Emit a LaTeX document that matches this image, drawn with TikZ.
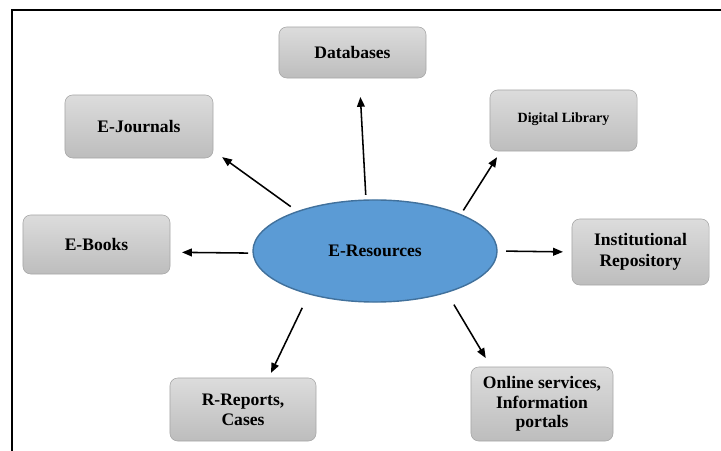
\documentclass[tikz,border=0pt]{standalone}
\usepackage{fontspec}
\setmainfont{Liberation Serif}
\usetikzlibrary{shapes.geometric,arrows.meta,shadings}
\definecolor{boxline}{HTML}{A6A6A6}
\definecolor{boxtop}{HTML}{DCDCDC}
\definecolor{boxbot}{HTML}{BDBDBD}
\definecolor{ellfill}{HTML}{5B9BD5}
\definecolor{ellline}{HTML}{41719C}
\tikzset{
  resbox/.style={draw=boxline, rounded corners=5.5pt, top color=boxtop, bottom color=boxbot,
    align=center, inner sep=2pt, outer sep=0pt, font=\fontsize{12.5}{14}\selectfont\bfseries},
  arr/.style={line width=1.1pt, -{Triangle[length=7pt,width=5.5pt]}}
}
\begin{document}
\begin{tikzpicture}[x=0.025cm, y=-0.025cm]
    \useasboundingbox (0,0) rectangle (721,451);
    % frame
    \draw[line width=1.4pt] (12,451) -- (12,10) -- (721,10);
    % centre
    \node[ellipse, draw=ellline, line width=1pt, fill=ellfill, minimum width=6.1cm, minimum height=2.55cm,
      inner sep=0pt, outer sep=0pt, font=\fontsize{12.5}{14}\selectfont\bfseries] (ell) at (375,251) {E-Resources};
    % boxes
    \node[resbox, minimum width=3.675cm, minimum height=1.275cm] (db) at (352.5,52.5) {Databases};
    \node[resbox, minimum width=3.7cm, minimum height=1.575cm] (ej) at (139,126.5) {E-Journals};
    \node[resbox, minimum width=3.675cm, minimum height=1.525cm, font=\fontsize{10}{12}\selectfont\bfseries] (dl) at (563.5,120.5) {\raisebox{4.6pt}{Digital Library}};
    \node[resbox, minimum width=3.675cm, minimum height=1.475cm] (eb) at (96.5,244.5) {E-Books};
    \node[resbox, minimum width=3.425cm, minimum height=1.65cm, font=\fontsize{12.5}{15}\selectfont\bfseries] (ir) at (640.5,252) {Institutional\\Repository};
    \node[resbox, minimum width=3.65cm, minimum height=1.575cm] (rr) at (243,409.5) {R-Reports,\\Cases};
    \node[resbox, minimum width=3.55cm, minimum height=1.85cm] (os) at (542,404) {Online services,\\Information\\portals};
    % arrows
    \draw[arr, shorten <=3.7pt, shorten >=13.5pt] (ell.100.8) -- (db.-75.7);
    \draw[arr, shorten <=6pt, shorten >=8pt] (ell.153.5) -- (ej.-18);
    \draw[arr, shorten <=3.6pt, shorten >=5.2pt] (ell.23.7) -- (dl.206.4);
    \draw[arr, shorten <=3.6pt, shorten >=8.5pt] (ell.181) -- (eb.-6);
    \draw[arr, shorten <=6.4pt, shorten >=6.4pt] (ell.0) -- (ir.west);
    \draw[arr, shorten <=11pt, shorten >=4pt] (ell.213.5) -- (rr.51);
    \draw[arr, shorten <=10.2pt, shorten >=7.4pt] (ell.-30.4) -- (os.144.9);
\end{tikzpicture}
\end{document}
